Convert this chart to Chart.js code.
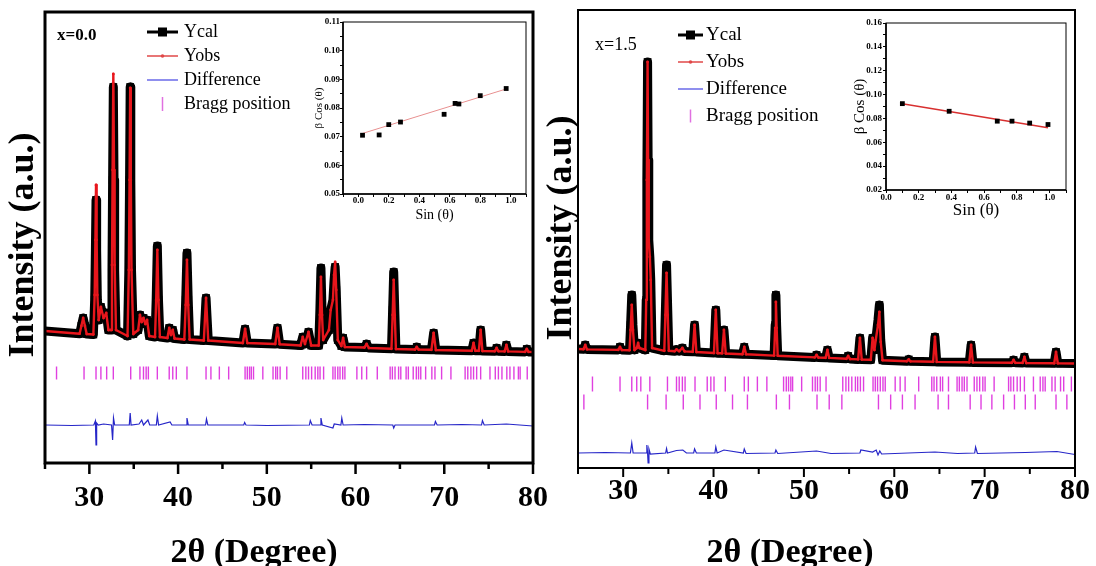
<!DOCTYPE html>
<html>
<head>
<meta charset="utf-8">
<script src="https://cdn.jsdelivr.net/npm/chart.js@4.4.1/dist/chart.umd.min.js"></script>
<style>
html, body { margin: 0; padding: 0; background: #fff; width: 1096px; height: 566px; overflow: hidden; }
canvas { position: absolute; }
#mainL { left: 0; top: 0; width: 566px; height: 580px; }
#mainR { left: 545px; top: 0; width: 551px; height: 580px; }
#insetL { left: 300px; top: 14px; width: 230px; height: 214px; }
#insetR { left: 850px; top: 12px; width: 222px; height: 213px; }
</style>
</head>
<body>
<canvas id="mainL" width="566" height="580"></canvas>
<canvas id="mainR" width="551" height="580"></canvas>
<canvas id="insetL" width="230" height="214"></canvas>
<canvas id="insetR" width="222" height="213"></canvas>
<script>
// ---- x = 0.0 : refinement pattern (intensity, arbitrary units) ----
const leftTheta = [25.0, 28.9, 29.1, 29.3, 29.5, 29.7, 30.45, 30.6, 30.68, 30.75, 30.82, 30.9, 31.05, 31.3, 31.6, 31.9, 32.15, 32.45, 32.55, 32.62, 32.7, 32.78, 32.85, 33.0, 34.3, 34.45, 34.53, 34.6, 34.67, 34.75, 34.95, 35.5, 35.7, 35.9, 36.1, 36.3, 36.5, 36.75, 37.4, 37.53, 37.66, 37.79, 37.95, 38.8, 39.0, 39.2, 39.4, 39.6, 40.7, 40.86, 41.0, 41.14, 41.3, 42.9, 43.15, 43.4, 47.3, 47.55, 47.8, 50.95, 51.2, 51.45, 53.8, 54.05, 54.3, 54.7, 55.0, 55.85, 55.98, 56.1, 56.22, 56.35, 57.0, 57.2, 57.45, 57.58, 57.7, 57.82, 58.0, 58.4, 58.6, 58.8, 61.0, 61.25, 61.5, 64.05, 64.18, 64.3, 64.42, 64.55, 66.7, 66.9, 67.1, 68.55, 68.8, 69.05, 73.1, 73.3, 73.5, 73.9, 74.1, 74.3, 75.7, 75.9, 76.1, 76.8, 77.0, 77.2, 79.1, 79.3, 79.5, 80.0];
const leftCal = [690, 663, 740, 820, 740, 660, 655, 1000, 1500, 2000, 1500, 1000, 800, 930, 820, 870, 700, 700, 1300, 2200, 3130, 2200, 1300, 700, 640, 1300, 2200, 3130, 2200, 1300, 660, 700, 850, 780, 820, 760, 800, 640, 630, 1000, 1540, 1000, 630, 620, 720, 650, 700, 615, 605, 1000, 1470, 1000, 605, 595, 1020, 595, 570, 710, 570, 560, 720, 558, 545, 630, 560, 680, 545, 545, 900, 1320, 900, 600, 700, 900, 1000, 1200, 1330, 1100, 600, 540, 620, 530, 525, 560, 520, 512, 900, 1280, 900, 510, 505, 530, 505, 502, 670, 500, 492, 570, 492, 492, 700, 490, 488, 520, 488, 486, 550, 486, 481, 510, 481, 480];
const leftObs = [690, 663, 740, 820, 740, 660, 655, 1050, 1600, 2150, 1600, 1050, 800, 930, 820, 870, 700, 700, 1350, 2300, 3260, 2300, 1350, 700, 640, 1300, 2200, 3120, 2200, 1300, 660, 700, 850, 780, 820, 760, 800, 640, 630, 1000, 1500, 1000, 630, 620, 720, 650, 700, 615, 605, 950, 1400, 950, 605, 595, 1020, 595, 570, 710, 570, 560, 720, 558, 545, 630, 560, 680, 545, 545, 850, 1230, 850, 600, 700, 900, 1000, 1250, 1380, 1100, 600, 540, 620, 530, 525, 560, 520, 512, 850, 1200, 850, 510, 505, 530, 505, 502, 670, 500, 492, 570, 492, 492, 700, 490, 488, 520, 488, 486, 550, 486, 481, 510, 481, 480];
const leftDiffTheta = [25, 28, 30.5, 30.68, 30.75, 30.82, 31.0, 31.6, 32.5, 32.62, 32.72, 32.85, 34.5, 34.6, 34.7, 35.6, 35.9, 36.1, 36.6, 36.8, 37.55, 37.66, 37.8, 39.1, 39.3, 40.9, 41.0, 41.15, 43.1, 43.2, 43.35, 47.4, 47.5, 47.65, 50, 54.8, 54.9, 55.1, 56.0, 56.1, 56.25, 57.45, 57.6, 58.35, 58.45, 58.6, 61, 64.2, 64.3, 64.45, 68.9, 69.0, 69.2, 72, 74.2, 74.3, 74.5, 77, 80];
const leftDiff = [-250, -255, -250, -210, -450, -230, -250, -240, -250, -400, -180, -250, -250, -130, -250, -240, -200, -250, -200, -250, -250, -160, -250, -220, -250, -250, -180, -250, -250, -190, -250, -250, -225, -250, -255, -250, -205, -250, -250, -180, -250, -280, -240, -250, -180, -250, -245, -250, -280, -250, -250, -215, -250, -245, -250, -205, -250, -240, -260];
const leftBragg = [26.3, 29.4, 30.75, 31.3, 31.95, 32.7, 34.66, 35.7, 36.1, 36.4, 36.65, 37.66, 39.0, 39.4, 39.8, 41.0, 43.15, 43.7, 44.65, 45.7, 47.55, 47.8, 48.05, 48.25, 48.5, 49.55, 50.7, 51.0, 51.2, 51.5, 52.25, 54.05, 54.4, 54.7, 55.05, 55.45, 55.75, 56.0, 56.4, 57.45, 57.7, 58.0, 58.25, 58.55, 58.8, 60.15, 60.7, 61.25, 62.45, 63.9, 64.15, 64.45, 64.85, 65.1, 65.7, 65.95, 66.5, 66.85, 67.1, 67.35, 67.9, 68.6, 68.95, 69.7, 70.75, 72.35, 72.65, 73.0, 73.3, 73.65, 74.1, 75.15, 75.75, 76.1, 76.5, 77.05, 77.4, 77.85, 78.35, 78.55, 79.35];
const leftBraggLevel = 270;

// ---- x = 1.5 ----
const rightTheta = [25.0, 25.6, 25.8, 26.0, 29.45, 29.65, 29.85, 30.7, 30.82, 30.95, 31.08, 31.25, 31.5, 31.65, 31.8, 32.45, 32.55, 32.62, 32.7, 32.76, 32.83, 32.95, 33.05, 33.2, 34.55, 34.67, 34.8, 34.93, 35.05, 35.7, 35.9, 36.2, 36.55, 36.8, 37.7, 37.9, 38.1, 40.05, 40.25, 40.45, 40.95, 41.15, 41.35, 43.2, 43.4, 43.6, 46.7, 46.82, 46.9, 46.98, 47.1, 51.2, 51.4, 51.6, 52.4, 52.6, 52.8, 54.7, 54.9, 55.1, 56.0, 56.2, 56.4, 57.4, 57.6, 57.8, 57.95, 58.2, 58.35, 58.5, 58.7, 61.4, 61.6, 61.8, 64.3, 64.5, 64.7, 68.3, 68.5, 68.7, 73.0, 73.2, 73.4, 74.2, 74.4, 74.6, 77.7, 77.9, 78.1, 80.0];
const rightCal = [710, 708, 750, 706, 701, 730, 700, 698, 950, 1250, 950, 700, 720, 770, 720, 700, 1200, 2400, 3580, 2600, 1800, 1630, 1400, 720, 692, 1100, 1550, 1100, 692, 688, 705, 688, 720, 686, 682, 950, 680, 670, 1100, 668, 667, 900, 665, 658, 730, 657, 644, 950, 1250, 950, 643, 626, 650, 625, 622, 700, 621, 612, 640, 610, 606, 820, 604, 602, 820, 700, 800, 1000, 1150, 800, 598, 588, 605, 587, 582, 830, 581, 577, 750, 576, 572, 600, 572, 571, 630, 570, 567, 680, 567, 565];
const rightObs = [710, 708, 750, 706, 701, 730, 700, 698, 900, 1150, 900, 700, 720, 770, 720, 700, 1200, 2400, 3580, 2600, 1800, 1630, 1400, 720, 692, 1050, 1470, 1050, 692, 688, 705, 688, 720, 686, 682, 950, 680, 670, 1100, 668, 667, 900, 665, 658, 730, 657, 644, 920, 1180, 920, 643, 626, 650, 625, 622, 700, 621, 612, 640, 610, 606, 820, 604, 602, 820, 700, 800, 950, 1080, 780, 598, 588, 605, 587, 582, 830, 581, 577, 750, 576, 572, 600, 572, 571, 630, 570, 567, 680, 567, 565];
const rightDiffTheta = [25, 28, 30.8, 30.95, 31.1, 32.55, 32.62, 32.7, 32.76, 32.85, 33.0, 34.7, 34.8, 34.9, 35.9, 36.6, 37.0, 37.8, 37.9, 38.1, 40.15, 40.25, 40.4, 41.15, 43.3, 43.4, 43.6, 46.8, 46.9, 47.1, 51.4, 53, 56.2, 56.3, 57.6, 58.0, 58.2, 58.4, 58.6, 64.5, 67, 68.9, 69.0, 69.2, 74.5, 78, 80];
const rightDiff = [-330, -325, -330, -230, -330, -330, -250, -330, -430, -290, -340, -330, -285, -330, -305, -300, -330, -330, -290, -330, -330, -270, -330, -300, -330, -290, -335, -330, -300, -335, -310, -335, -330, -300, -320, -300, -350, -310, -340, -320, -335, -330, -270, -335, -325, -315, -345];
const rightBragg1 = [26.6, 29.65, 30.95, 31.5, 31.95, 32.95, 34.9, 35.9, 36.2, 36.55, 36.85, 37.95, 39.3, 39.7, 40.05, 41.3, 43.4, 43.85, 44.85, 45.9, 47.75, 48.05, 48.3, 48.55, 48.75, 49.75, 50.95, 51.25, 51.5, 51.8, 52.45, 54.3, 54.65, 54.95, 55.3, 55.7, 55.95, 56.25, 56.6, 57.65, 57.9, 58.15, 58.45, 58.75, 59.0, 60.1, 60.65, 61.2, 62.7, 64.15, 64.4, 64.7, 65.1, 65.35, 66.0, 66.95, 67.2, 67.5, 67.75, 68.05, 68.85, 69.15, 69.45, 69.8, 70.05, 71.05, 72.65, 72.9, 73.2, 73.6, 73.95, 74.4, 75.4, 76.15, 76.45, 76.7, 77.45, 77.8, 78.4, 78.75, 79.6];
const rightBragg2 = [25.65, 32.7, 34.75, 36.65, 38.5, 40.3, 42.1, 43.75, 46.95, 48.4, 51.45, 52.8, 54.2, 58.25, 59.6, 60.9, 62.3, 64.85, 66.0, 68.4, 69.6, 70.8, 72.1, 73.3, 74.5, 75.6, 77.9, 79.1];
const rightBraggLevel1 = 360;
const rightBraggLevel2 = 180;

// ---- Williamson-Hall insets ----
const whSinL = [0.028, 0.137, 0.2, 0.277, 0.563, 0.635, 0.66, 0.8, 0.97];
const whBetaL = [0.0705, 0.0706, 0.0742, 0.0751, 0.0778, 0.0816, 0.0814, 0.0843, 0.0868];
const whFitSinL = [0.02, 0.98];
const whFitBetaL = [0.0710, 0.0868];
const whSinR = [0.10, 0.386, 0.68, 0.77, 0.878, 0.99];
const whBetaR = [0.0924, 0.086, 0.0777, 0.0777, 0.0761, 0.0749];
const whFitSinR = [0.09, 0.99];
const whFitBetaR = [0.0925, 0.0722];

const serif = '"Liberation Serif", "DejaVu Serif", serif';
Chart.defaults.font.family = serif;
Chart.defaults.color = '#000';

function pts(xs, ys) { return xs.map((x, i) => ({x: x, y: ys[i]})); }
function bragg(xs, level) { return xs.map(x => ({x: x, y: level})); }

function drawLegend(ctx, datasets, L) {
  let r = 0;
  datasets.forEach(ds => {
    if (!ds.label) return;
    const y = L.rows[r++];
    const xm = (L.x0 + L.x1) / 2;
    ctx.save();
    ctx.strokeStyle = ds.legendColor;
    if (ds.sample === 'tick') {
      ctx.lineWidth = 1.5;
      ctx.beginPath(); ctx.moveTo(xm, y - L.tick); ctx.lineTo(xm, y + L.tick); ctx.stroke();
    } else {
      ctx.lineWidth = ds.sample === 'rect' ? 3 : 1.5;
      ctx.beginPath(); ctx.moveTo(L.x0, y); ctx.lineTo(L.x1, y); ctx.stroke();
      ctx.fillStyle = ds.legendColor;
      if (ds.sample === 'rect') ctx.fillRect(xm - 4.5, y - 4.5, 9, 9);
      if (ds.sample === 'dot') { ctx.beginPath(); ctx.arc(xm, y, 1.8, 0, Math.PI * 2); ctx.fill(); }
    }
    ctx.restore();
    ctx.font = L.font;
    ctx.fillStyle = '#000';
    ctx.textAlign = 'left';
    ctx.textBaseline = 'middle';
    ctx.fillText(ds.label, L.textX, y);
  });
}

const panelDecor = {
  id: 'panelDecor',
  afterDraw(chart, args, o) {
    const ctx = chart.ctx, a = chart.chartArea, xs = chart.scales.x;
    ctx.save();
    ctx.strokeStyle = '#000';
    ctx.lineWidth = o.frame;
    ctx.strokeRect(a.left, a.top, a.right - a.left, a.bottom - a.top);
    ctx.lineWidth = o.tickWidth;
    xs.ticks.forEach(t => {
      const px = xs.getPixelForValue(t.value);
      const len = t.value % 10 === 0 ? o.major : o.minor;
      ctx.beginPath(); ctx.moveTo(px, a.bottom); ctx.lineTo(px, a.bottom + len); ctx.stroke();
    });
    ctx.fillStyle = '#000';
    ctx.textAlign = 'center';
    ctx.textBaseline = 'middle';
    ctx.font = 'bold 34px ' + serif;
    ctx.fillText('2θ (Degree)', o.xTitleAt[0], o.xTitleAt[1]);
    ctx.save();
    ctx.translate(o.yTitleAt[0], o.yTitleAt[1]);
    ctx.rotate(-Math.PI / 2);
    ctx.font = 'bold 36px ' + serif;
    ctx.fillText('Intensity (a.u.)', 0, 0);
    ctx.restore();
    ctx.textAlign = 'left';
    ctx.font = o.tagFont;
    ctx.fillText(o.tag, o.tagAt[0], o.tagAt[1]);
    drawLegend(ctx, chart.data.datasets, o.legend);
    ctx.restore();
  }
};

function mainChart(id, d, cfg) {
  const datasets = [
    { label: 'Ycal', data: pts(d.theta, d.cal), showLine: true, borderColor: '#000', borderWidth: 9,
      borderJoinStyle: 'round', pointStyle: 'rect', pointRadius: 5.5, pointBackgroundColor: '#000',
      pointBorderWidth: 0, clip: 0, order: 2, sample: 'rect', legendColor: '#000' },
    { label: 'Yobs', data: pts(d.theta, d.obs), showLine: true, borderColor: '#e8161c', borderWidth: 2.4,
      borderJoinStyle: 'round', pointRadius: 1.4, pointBackgroundColor: '#e8161c', pointBorderWidth: 0,
      clip: 0, order: 1, sample: 'dot', legendColor: '#e04848' },
    { label: 'Difference', data: pts(d.diffTheta, d.diff), showLine: true, borderColor: '#2626c8',
      borderWidth: 1.2, pointRadius: 0, clip: 0, order: 3, sample: 'line', legendColor: '#6a6ae8' }
  ];
  d.bragg.forEach((b, i) => {
    datasets.push({ label: i === 0 ? 'Bragg position' : '', data: bragg(b.x, b.level), showLine: false,
      pointStyle: 'line', rotation: 90, pointRadius: b.half, borderColor: '#e040e0', pointBorderColor: '#e040e0',
      pointBorderWidth: 1.4, order: 4, sample: 'tick', legendColor: '#e070e0' });
  });
  return new Chart(document.getElementById(id), {
    type: 'scatter',
    data: { datasets: datasets },
    options: {
      responsive: false, animation: false, events: [],
      layout: { padding: cfg.pad },
      scales: {
        x: { type: 'linear', min: 25, max: 80,
          ticks: { stepSize: 5, autoSkip: false, maxRotation: 0, padding: cfg.tickPad, color: '#000',
            font: { family: serif, size: 30, weight: 'bold' },
            callback: v => (v % 10 === 0 ? String(v) : '') },
          grid: { display: false, drawTicks: false }, border: { display: false },
          afterFit: s => { s.height = cfg.xHeight; } },
        y: { display: false, min: cfg.yMin, max: cfg.yMax }
      },
      plugins: { legend: { display: false }, tooltip: { enabled: false }, panelDecor: cfg.decor }
    },
    plugins: [panelDecor]
  });
}

mainChart('mainL',
  { theta: leftTheta, cal: leftCal, obs: leftObs, diffTheta: leftDiffTheta, diff: leftDiff,
    bragg: [{ x: leftBragg, level: leftBraggLevel, half: 6.5 }] },
  { pad: { left: 45, top: 12, right: 33, bottom: 0 }, xHeight: 117, tickPad: 17, yMin: -630, yMax: 3880,
    decor: { frame: 3, tickWidth: 2.5, major: 11, minor: 6, xTitleAt: [254, 553], yTitleAt: [24, 245],
      tag: 'x=0.0', tagAt: [57, 36], tagFont: 'bold 17px ' + serif,
      legend: { x0: 147, x1: 178, textX: 184, rows: [32, 56, 80, 104], font: '18px ' + serif, tick: 7 } } });

mainChart('mainR',
  { theta: rightTheta, cal: rightCal, obs: rightObs, diffTheta: rightDiffTheta, diff: rightDiff,
    bragg: [{ x: rightBragg1, level: rightBraggLevel1, half: 7.5 }, { x: rightBragg2, level: rightBraggLevel2, half: 7.5 }] },
  { pad: { left: 33, top: 10, right: 21, bottom: 0 }, xHeight: 112, tickPad: 5, yMin: -480, yMax: 4100,
    decor: { frame: 2, tickWidth: 2, major: 9, minor: 6, xTitleAt: [245, 553], yTitleAt: [17, 228],
      tag: 'x=1.5', tagAt: [50, 45], tagFont: '18px ' + serif,
      legend: { x0: 133, x1: 158, textX: 161, rows: [35, 62, 89, 116], font: '19px ' + serif, tick: 6.5 } } });

const insetFrame = {
  id: 'insetFrame',
  afterDraw(chart) {
    const ctx = chart.ctx, a = chart.chartArea;
    ctx.save();
    ctx.strokeStyle = '#000';
    ctx.lineWidth = 1;
    ctx.strokeRect(a.left, a.top, a.right - a.left, a.bottom - a.top);
    ctx.lineWidth = 1.6;
    ctx.beginPath(); ctx.moveTo(a.left, a.top); ctx.lineTo(a.left, a.bottom); ctx.lineTo(a.right, a.bottom); ctx.stroke();
    ctx.restore();
  }
};

function insetChart(id, cfg) {
  const tickFont = { family: serif, size: 9, weight: 'bold' };
  return new Chart(document.getElementById(id), {
    type: 'scatter',
    data: { datasets: [
      { data: pts(cfg.sx, cfg.sy), pointStyle: 'rect', pointRadius: 3.4, pointBackgroundColor: '#000', pointBorderWidth: 0 },
      { data: pts(cfg.fx, cfg.fy), showLine: true, borderColor: cfg.fitColor, borderWidth: cfg.fitWidth, pointRadius: 0 }
    ] },
    options: {
      responsive: false, animation: false, events: [],
      layout: { padding: cfg.pad },
      scales: {
        x: { min: cfg.xMin, max: cfg.xMax,
          ticks: { stepSize: 0.1, autoSkip: false, maxRotation: 0, padding: cfg.xTickPad, font: tickFont, color: '#000',
            callback: v => { const k = Math.round(v * 10); return k >= 0 && k % 2 === 0 ? (k / 10).toFixed(1) : ''; } },
          grid: { drawOnChartArea: false, tickLength: 3, color: '#000' }, border: { display: false },
          title: { display: true, text: 'Sin (θ)', color: '#000', font: { family: serif, size: cfg.xTitleSize }, padding: { top: 0, bottom: cfg.xTitlePad } },
          afterFit: s => { s.height = cfg.xHeight; } },
        y: { min: cfg.yMin, max: cfg.yMax,
          ticks: { stepSize: cfg.yStep, autoSkip: false, padding: cfg.yTickPad, font: tickFont, color: '#000',
            callback: v => { const k = Math.round(v / cfg.yStep); return k % 2 === 0 ? (k * cfg.yStep).toFixed(2) : ''; } },
          grid: { drawOnChartArea: false, tickLength: 3, color: '#000' }, border: { display: false },
          title: { display: true, text: 'β Cos (θ)', color: '#000', font: { family: serif, size: cfg.yTitleSize }, padding: { top: cfg.yTitlePad, bottom: 0 } },
          afterFit: s => { s.width = cfg.yWidth; } }
      },
      plugins: { legend: { display: false }, tooltip: { enabled: false } }
    },
    plugins: [insetFrame]
  });
}

insetChart('insetL', { sx: whSinL, sy: whBetaL, fx: whFitSinL, fy: whFitBetaL, fitColor: '#e89090', fitWidth: 1,
  pad: { left: 0, top: 8, right: 3, bottom: 0 }, xMin: -0.1, xMax: 1.1, yMin: 0.05, yMax: 0.11, yStep: 0.005,
  xHeight: 34, xTickPad: -2, yTickPad: 0, xTitleSize: 14, xTitlePad: 4, yTitleSize: 11, yTitlePad: 13, yWidth: 43 });

insetChart('insetR', { sx: whSinR, sy: whBetaR, fx: whFitSinR, fy: whFitBetaR, fitColor: '#d83030', fitWidth: 1.5,
  pad: { left: 0, top: 11, right: 6, bottom: 0 }, xMin: 0, xMax: 1.1, yMin: 0.02, yMax: 0.16, yStep: 0.01,
  xHeight: 35, xTickPad: -1, yTickPad: 1, xTitleSize: 17, xTitlePad: 4, yTitleSize: 15, yTitlePad: 1, yWidth: 36 });
</script>
</body>
</html>
